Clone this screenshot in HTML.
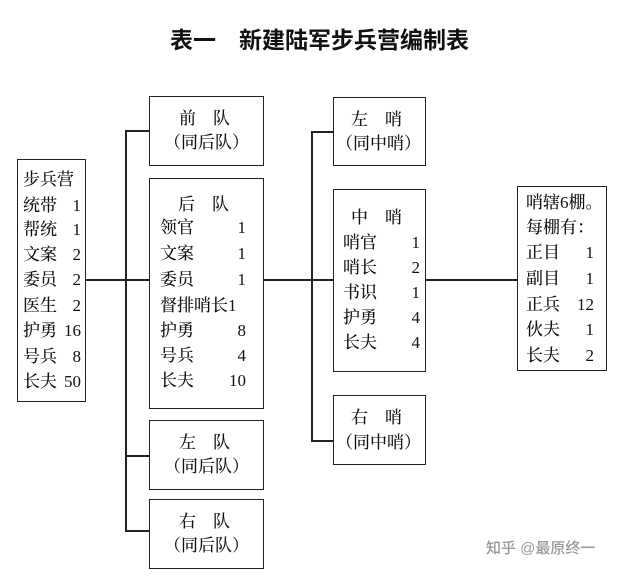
<!DOCTYPE html>
<html><head><meta charset="utf-8"><style>
html,body{margin:0;padding:0;background:#fff;}
body{width:644px;height:585px;position:relative;overflow:hidden;font-family:"Liberation Serif","Noto Serif CJK SC",serif;color:#111;}
.b{position:absolute;border:1.5px solid #222;box-sizing:border-box;}
.l{position:absolute;background:#222;}
.t{position:absolute;font-size:17px;line-height:22px;height:22px;white-space:pre;font-weight:500;}
.n{position:absolute;font-size:17px;line-height:22px;height:22px;text-align:right;}
</style></head><body>
<div class="t" style="left:170px;top:25px;font-size:23px;line-height:30px;height:30px;font-weight:bold;font-family:'Liberation Sans','Noto Sans CJK SC',sans-serif;">表一　新建陆军步兵营编制表</div>

<!-- lines -->
<div class="l" style="left:85px;top:279px;width:64px;height:1.5px"></div>
<div class="l" style="left:264px;top:279px;width:69px;height:1.5px"></div>
<div class="l" style="left:426px;top:279px;width:91px;height:1.5px"></div>
<div class="l" style="left:125px;top:130px;width:1.5px;height:401px"></div>
<div class="l" style="left:125px;top:130px;width:24px;height:1.5px"></div>
<div class="l" style="left:125px;top:455px;width:24px;height:1.5px"></div>
<div class="l" style="left:125px;top:530px;width:24px;height:1.5px"></div>
<div class="l" style="left:311px;top:131px;width:1.5px;height:310px"></div>
<div class="l" style="left:311px;top:131px;width:22px;height:1.5px"></div>
<div class="l" style="left:311px;top:440px;width:22px;height:1.5px"></div>

<!-- left box -->
<div class="b" style="left:17px;top:159px;width:69px;height:243px"></div>
<div class="t" style="left:23px;top:169px">步兵营</div>
<div class="t" style="left:23px;top:195px">统带</div><div class="n" style="left:50px;width:31px;top:195px">1</div>
<div class="t" style="left:23px;top:219px">帮统</div><div class="n" style="left:50px;width:31px;top:219px">1</div>
<div class="t" style="left:23px;top:244px">文案</div><div class="n" style="left:50px;width:31px;top:244px">2</div>
<div class="t" style="left:23px;top:269px">委员</div><div class="n" style="left:50px;width:31px;top:269px">2</div>
<div class="t" style="left:23px;top:295px">医生</div><div class="n" style="left:50px;width:31px;top:295px">2</div>
<div class="t" style="left:23px;top:320px">护勇</div><div class="n" style="left:50px;width:31px;top:320px">16</div>
<div class="t" style="left:23px;top:346px">号兵</div><div class="n" style="left:50px;width:31px;top:346px">8</div>
<div class="t" style="left:23px;top:371px">长夫</div><div class="n" style="left:50px;width:31px;top:371px">50</div>

<!-- 前队 -->
<div class="b" style="left:149px;top:96px;width:115px;height:70px"></div>
<div class="t" style="left:179px;top:108px">前　队</div>
<div class="t" style="left:164px;top:132px">（同后队）</div>

<!-- 后队 -->
<div class="b" style="left:149px;top:178px;width:115px;height:231px"></div>
<div class="t" style="left:178px;top:194px">后　队</div>
<div class="t" style="left:160px;top:217px">领官</div><div class="n" style="left:200px;width:46px;top:217px">1</div>
<div class="t" style="left:160px;top:243px">文案</div><div class="n" style="left:200px;width:46px;top:243px">1</div>
<div class="t" style="left:160px;top:269px">委员</div><div class="n" style="left:200px;width:46px;top:269px">1</div>
<div class="t" style="left:160px;top:295px">督排哨长1</div>
<div class="t" style="left:160px;top:320px">护勇</div><div class="n" style="left:200px;width:46px;top:320px">8</div>
<div class="t" style="left:160px;top:345px">号兵</div><div class="n" style="left:200px;width:46px;top:345px">4</div>
<div class="t" style="left:160px;top:370px">长夫</div><div class="n" style="left:200px;width:46px;top:370px">10</div>

<!-- 左队 -->
<div class="b" style="left:149px;top:420px;width:115px;height:70px"></div>
<div class="t" style="left:179px;top:432px">左　队</div>
<div class="t" style="left:164px;top:456px">（同后队）</div>

<!-- 右队 -->
<div class="b" style="left:149px;top:499px;width:115px;height:70px"></div>
<div class="t" style="left:179px;top:511px">右　队</div>
<div class="t" style="left:164px;top:535px">（同后队）</div>

<!-- 左哨 -->
<div class="b" style="left:333px;top:97px;width:93px;height:69px"></div>
<div class="t" style="left:351px;top:109px">左　哨</div>
<div class="t" style="left:336px;top:133px">（同中哨）</div>

<!-- 中哨 -->
<div class="b" style="left:333px;top:189px;width:93px;height:183px"></div>
<div class="t" style="left:351px;top:207px">中　哨</div>
<div class="t" style="left:343px;top:232px">哨官</div><div class="n" style="left:390px;width:30px;top:232px">1</div>
<div class="t" style="left:343px;top:257px">哨长</div><div class="n" style="left:390px;width:30px;top:257px">2</div>
<div class="t" style="left:343px;top:282px">书识</div><div class="n" style="left:390px;width:30px;top:282px">1</div>
<div class="t" style="left:343px;top:307px">护勇</div><div class="n" style="left:390px;width:30px;top:307px">4</div>
<div class="t" style="left:343px;top:332px">长夫</div><div class="n" style="left:390px;width:30px;top:332px">4</div>

<!-- 右哨 -->
<div class="b" style="left:333px;top:395px;width:93px;height:70px"></div>
<div class="t" style="left:351px;top:407px">右　哨</div>
<div class="t" style="left:336px;top:432px">（同中哨）</div>

<!-- right box -->
<div class="b" style="left:517px;top:186px;width:90px;height:185px"></div>
<div class="t" style="left:526px;top:192px">哨辖6棚。</div>
<div class="t" style="left:526px;top:217px">每棚有：</div>
<div class="t" style="left:526px;top:242px">正目</div><div class="n" style="left:560px;width:34px;top:242px">1</div>
<div class="t" style="left:526px;top:268px">副目</div><div class="n" style="left:560px;width:34px;top:268px">1</div>
<div class="t" style="left:526px;top:294px">正兵</div><div class="n" style="left:560px;width:34px;top:294px">12</div>
<div class="t" style="left:526px;top:319px">伙夫</div><div class="n" style="left:560px;width:34px;top:319px">1</div>
<div class="t" style="left:526px;top:345px">长夫</div><div class="n" style="left:560px;width:34px;top:345px">2</div>

<div class="t" style="left:486px;top:538px;font-size:15px;color:#999;font-family:'Liberation Sans','Noto Sans CJK SC',sans-serif;">知乎 @最原终一</div>
</body></html>
